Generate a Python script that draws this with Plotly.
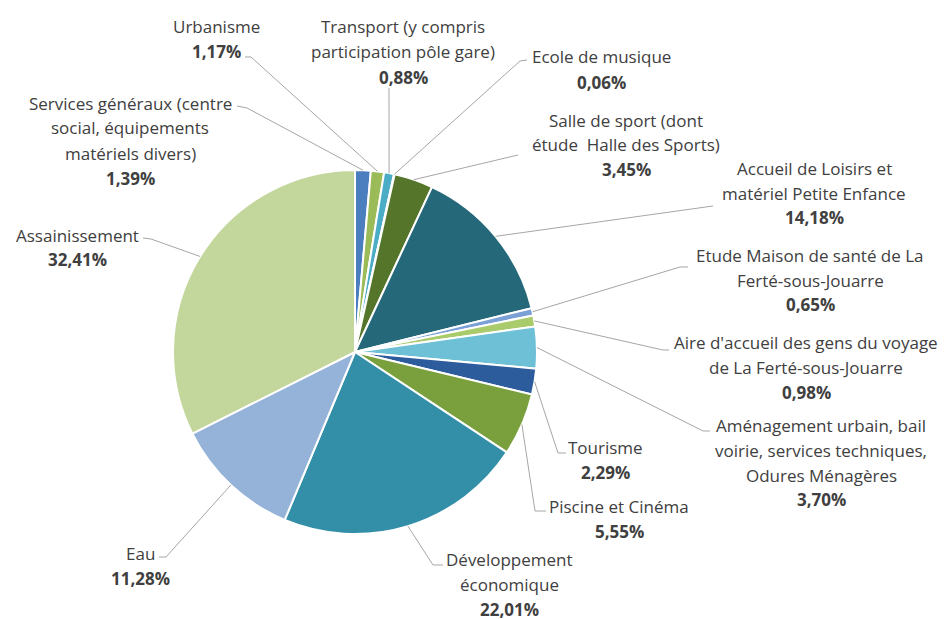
import math
import plotly.graph_objects as go

# ---------------- data ----------------
categories = [
    "Services généraux (centre social, équipements matériels divers)",
    "Urbanisme",
    "Transport (y compris participation pôle gare)",
    "Ecole de musique",
    "Salle de sport (dont étude  Halle des Sports)",
    "Accueil de Loisirs et matériel Petite Enfance",
    "Etude Maison de santé de La Ferté-sous-Jouarre",
    "Aire d'accueil des gens du voyage de La Ferté-sous-Jouarre",
    "Aménagement urbain, bail voirie, services techniques, Odures Ménagères",
    "Tourisme",
    "Piscine et Cinéma",
    "Développement économique",
    "Eau",
    "Assainissement",
]
values = [1.39, 1.17, 0.88, 0.06, 3.45, 14.18, 0.65, 0.98, 3.70, 2.29, 5.55, 22.01, 11.28, 32.41]
label_lines = [
    ["Services généraux (centre", "social, équipements", "matériels divers)"],
    ["Urbanisme"],
    ["Transport (y compris", "participation pôle gare)"],
    ["Ecole de musique"],
    ["Salle de sport (dont", "étude  Halle des Sports)"],
    ["Accueil de Loisirs et", "matériel Petite Enfance"],
    ["Etude Maison de santé de La", "Ferté-sous-Jouarre"],
    ["Aire d'accueil des gens du voyage", "de La Ferté-sous-Jouarre"],
    ["Aménagement urbain, bail", "voirie, services techniques,", "Odures Ménagères"],
    ["Tourisme"],
    ["Piscine et Cinéma"],
    ["Développement", "économique"],
    ["Eau"],
    ["Assainissement"],
]
colors = ["#4a7ebf", "#9bbb59", "#4bacc6", "#2c6e8a", "#55752a", "#24687a", "#7ba0d6",
          "#a9cb6b", "#6dc0d6", "#2d5c9c", "#79a03d", "#338fa8", "#95b3d8", "#c3d69b"]

# ---------------- layout (pixels) ----------------
W, H = 945, 619
CX, CY, R = 355, 352, 182
LS = 25  # line spacing

# label block: (center x, first line y, text-anchor)
label_pos = [
    (130, 103, "center"), (216, 27, "center"), (403, 27, "center"), (601, 57, "center"),
    (626, 120, "center"), (814, 168, "center"), (810, 255, "center"), (806, 342, "center"),
    (821, 425, "center"), (605, 447, "center"), (619, 506, "center"), (509, 559, "center"),
    (140, 553, "center"), (77, 235, "center"),
]
# leader line points on the label side (ordered from label to elbow)
leader_pts = [
    [(237, 106), (247, 108)],
    [(245, 57), (251, 57)],
    [(389, 88)],
    [(527, 60), (520, 61)],
    [(518, 155)],
    [(713, 206)],
    [(688, 267), (680, 267)],
    [(669, 350), (663, 350)],
    [(710, 431), (703, 431)],
    [(566, 453), (558, 453)],
    [(546, 511), (535, 511)],
    [(443, 565), (433, 565)],
    [(159, 557), (166, 557)],
    [(143, 238), (151, 239)],
]

def px(x):
    return x / W

def py(y):
    return 1 - y / H

fig = go.Figure(go.Pie(
    labels=categories, values=values, sort=False, direction="clockwise", rotation=0,
    marker=dict(colors=colors, line=dict(color="white", width=2)),
    textinfo="none", hoverinfo="label+percent",
    domain=dict(x=[px(CX - R), px(CX + R)], y=[py(CY + R), py(CY - R)]),
    showlegend=False,
))

annotations = []
shapes = []
total = sum(values)
cum = 0.0
font = dict(family="'Open Sans', sans-serif", size=17, color="#404040")
for i, v in enumerate(values):
    mid = (cum + v / 2) / total * 2 * math.pi
    cum += v
    ax = CX + R * math.sin(mid)
    ay = CY - R * math.cos(mid)
    lx, ly, anc = label_pos[i]
    lines = label_lines[i]
    for k, t in enumerate(lines):
        annotations.append(dict(x=px(lx), y=py(ly + k * LS), xref="paper", yref="paper",
                                text=t, showarrow=False, xanchor=anc, yanchor="middle", font=font))
    pct = f"{v:.2f}".replace(".", ",") + "%"
    annotations.append(dict(x=px(lx), y=py(ly + len(lines) * LS), xref="paper", yref="paper",
                            text=f"<b>{pct}</b>", showarrow=False, xanchor=anc, yanchor="middle",
                            font=font))
    pts = leader_pts[i] + [(ax, ay)]
    path = "M " + " L ".join(f"{px(x):.5f},{py(y):.5f}" for x, y in pts)
    shapes.append(dict(type="path", path=path, xref="paper", yref="paper",
                       line=dict(color="#a6a6a6", width=1)))

fig.update_layout(
    width=W, height=H, margin=dict(l=0, r=0, t=0, b=0),
    paper_bgcolor="white", plot_bgcolor="white",
    annotations=annotations, shapes=shapes,
)
fig.write_html("out.html", config={"displayModeBar": False},
               post_script="document.body.style.margin='0';document.body.style.overflow='hidden';")
